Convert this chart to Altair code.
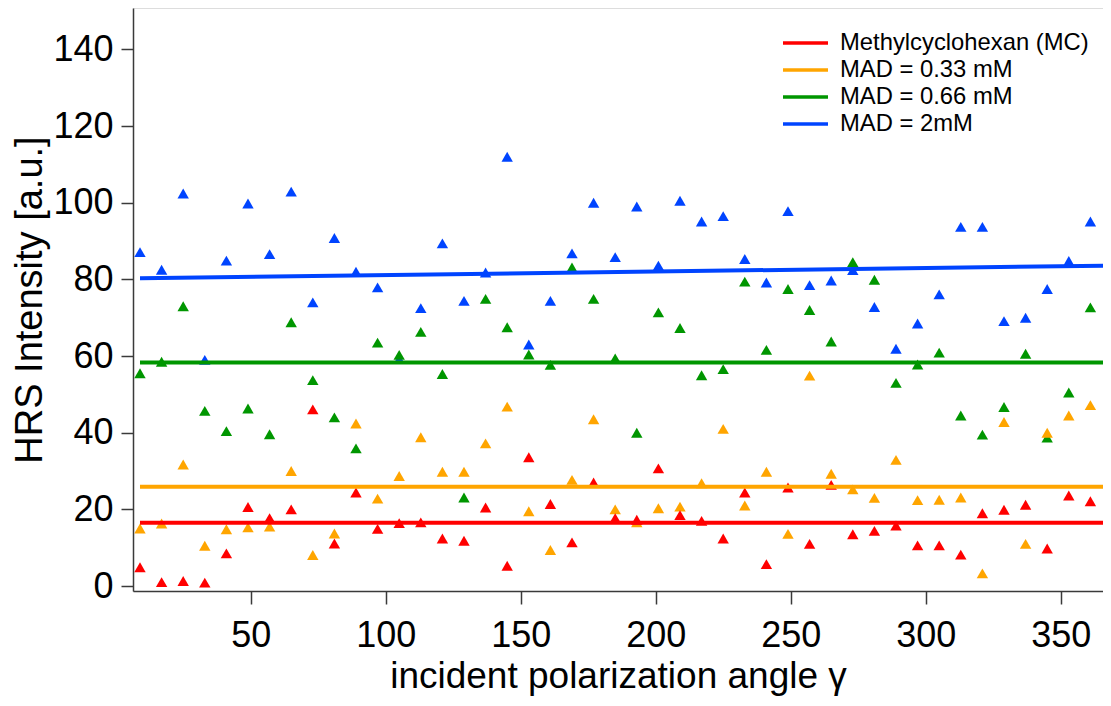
import altair as alt
import pandas as pd

# ---------------- data ----------------
angles = [9, 17, 25, 33, 41, 49, 57, 65, 73, 81, 89, 97, 105, 113, 121, 129,
          137, 145, 153, 161, 169, 177, 185, 193, 201, 209, 217, 225, 233, 241,
          249, 257, 265, 273, 281, 289, 297, 305, 313, 321, 329, 337, 345, 353,
          361, 369]

mc_vals = [4.9, 1.0, 1.3, 0.9, 8.5, 20.6, 17.7, 20.0, 46.1, 11.1, 24.4, 14.9,
           16.4, 16.6, 12.4, 11.8, 20.5, 5.3, 33.6, 21.4, 11.4, 27.0, 17.7, 17.3,
           30.7, 18.5, 17.0, 12.4, 24.4, 5.7, 25.7, 11.0, 26.4, 13.5, 14.4, 15.8,
           10.6, 10.6, 8.2, 19.0, 19.9, 21.2, 9.8, 23.6, 22.1, 32.5]

mad033_vals = [15.0, 16.3, 31.7, 10.5, 14.8, 15.3, 15.5, 30.0, 8.1, 13.7, 42.4, 22.8,
               28.7, 38.8, 29.8, 29.8, 37.2, 46.8, 19.5, 9.4, 27.7, 43.5, 20.0, 16.6,
               20.3, 20.7, 26.8, 41.0, 21.0, 29.8, 13.6, 54.9, 29.3, 25.2, 23.0, 32.9,
               22.4, 22.5, 23.1, 3.3, 42.8, 11.0, 40.0, 44.5, 47.2, 21.4]

mad066_vals = [55.5, 58.5, 73.0, 45.7, 40.4, 46.3, 39.6, 68.8, 53.7, 44.0, 35.9, 63.5,
               60.3, 66.3, 55.3, 23.1, 74.9, 67.5, 60.4, 57.7, 83.1, 74.9, 59.4, 40.0,
               71.4, 67.3, 55.0, 56.6, 79.4, 61.6, 77.5, 72.0, 63.8, 84.5, 79.9, 53.0,
               57.8, 60.9, 44.5, 39.5, 46.7, 60.6, 38.7, 50.5, 72.7, 47.4]

mad2_vals = [87.1, 82.5, 102.4, 59.0, 84.9, 99.8, 86.6, 102.9, 74.0, 90.8, 82.0, 77.9,
             59.2, 72.5, 89.4, 74.4, 81.8, 112.0, 63.0, 74.4, 86.8, 100.0, 85.8, 99.0,
             83.6, 100.5, 95.1, 96.5, 85.3, 79.2, 97.8, 78.5, 79.7, 82.4, 72.8, 61.9,
             68.5, 76.1, 93.7, 93.7, 69.1, 70.0, 77.5, 84.8, 95.1, 77.8]

# fitted lines: value at first and last angle
fit_angles = [9, 369]
mc_fit = [16.5, 16.5]
mad033_fit = [25.9, 25.9]
mad066_fit = [58.3, 58.3]
mad2_fit = [80.3, 83.6]

series_names = ["Methylcyclohexan (MC)", "MAD = 0.33 mM", "MAD = 0.66 mM", "MAD = 2mM"]
series_colors = ["#ff0000", "#ffa500", "#009600", "#0044ff"]
legend_rows = [0, 1, 2, 3]

x_ticks = [50, 100, 150, 200, 250, 300, 350]
y_ticks = [0, 20, 40, 60, 80, 100, 120, 140]

# ---------------- tables ----------------
values_by_series = {
    series_names[0]: mc_vals,
    series_names[1]: mad033_vals,
    series_names[2]: mad066_vals,
    series_names[3]: mad2_vals,
}
fits_by_series = {
    series_names[0]: mc_fit,
    series_names[1]: mad033_fit,
    series_names[2]: mad066_fit,
    series_names[3]: mad2_fit,
}
draw_order = [series_names[3], series_names[2], series_names[1], series_names[0]]

pts = pd.DataFrame(
    [{"angle": a, "value": v, "series": s, "ord": k}
     for k, s in enumerate(draw_order)
     for a, v in zip(angles, values_by_series[s])]
)
fits = pd.DataFrame(
    [{"angle": a, "value": v, "series": s}
     for s in draw_order
     for a, v in zip(fit_angles, fits_by_series[s])]
)
leg = pd.DataFrame({"series": series_names, "row": legend_rows})

# ---------------- layout ----------------
W, H = 970, 583
PX_PER_DEG = 2.7
X_MIN = 6.41
X_MAX = X_MIN + W / PX_PER_DEG
Y_MIN, Y_MAX = -1.3, 150.8
FONT = "Liberation Sans"
AXIS_COL = "#3a3a3a"

color = alt.Color("series:N",
                  scale=alt.Scale(domain=series_names, range=series_colors),
                  legend=None)
xs = alt.Scale(domain=[X_MIN, X_MAX], nice=False, zero=False)
ys = alt.Scale(domain=[Y_MIN, Y_MAX], nice=False, zero=False)

x_axis = alt.Axis(values=x_ticks, title="incident polarization angle γ", grid=False,
                  tickSize=13, labelPadding=14, titlePadding=5,
                  labelFontSize=36, titleFontSize=37, labelFont=FONT, titleFont=FONT,
                  labelColor="black", titleColor="black", titleFontWeight="normal",
                  domainColor=AXIS_COL, tickColor=AXIS_COL, domainWidth=1.5, tickWidth=1.5)
y_axis = alt.Axis(values=y_ticks, title="HRS Intensity [a.u.]", grid=False,
                  tickSize=12, labelPadding=8, titlePadding=3,
                  labelFontSize=36, titleFontSize=38, labelFont=FONT, titleFont=FONT,
                  labelColor="black", titleColor="black", titleFontWeight="normal",
                  domainColor=AXIS_COL, tickColor=AXIS_COL, domainWidth=1.5, tickWidth=1.5)

X = alt.X("angle:Q", scale=xs, axis=x_axis)

points = alt.Chart(pts).mark_point(shape="triangle-up", filled=True, size=130,
                                   opacity=1, clip=True).encode(
    x=X,
    y=alt.Y("value:Q", scale=ys, axis=y_axis),
    color=color,
    order=alt.Order("ord:Q"),
)

lines = alt.Chart(fits).mark_line(strokeWidth=4, clip=True).encode(
    x=X,
    y=alt.Y("value:Q", scale=ys, axis=None),
    color=color,
    detail="series:N",
)

leg_y = alt.Y("row:Q", scale=alt.Scale(domain=[0, 3], range=[35, 116]), axis=None)
leg_lines = alt.Chart(leg).mark_rule(strokeWidth=3.5).encode(
    x=alt.value(650), x2=alt.value(695), y=leg_y, color=color,
)
leg_text = alt.Chart(leg).mark_text(align="left", baseline="middle", fontSize=23.8,
                                    font=FONT, color="black").encode(
    x=alt.value(707), y=leg_y, text="series:N",
)

chart = alt.layer(points, lines, leg_lines, leg_text).resolve_scale(
    y="independent"
).properties(
    width=W, height=H,
    autosize=alt.AutoSizeParams(type="none"),
    padding={"left": 125, "top": 0, "right": 0, "bottom": 107},
).configure_view(stroke=None).configure(background="white")

chart.save("out.html", embed_options={"renderer": "svg", "actions": False})
